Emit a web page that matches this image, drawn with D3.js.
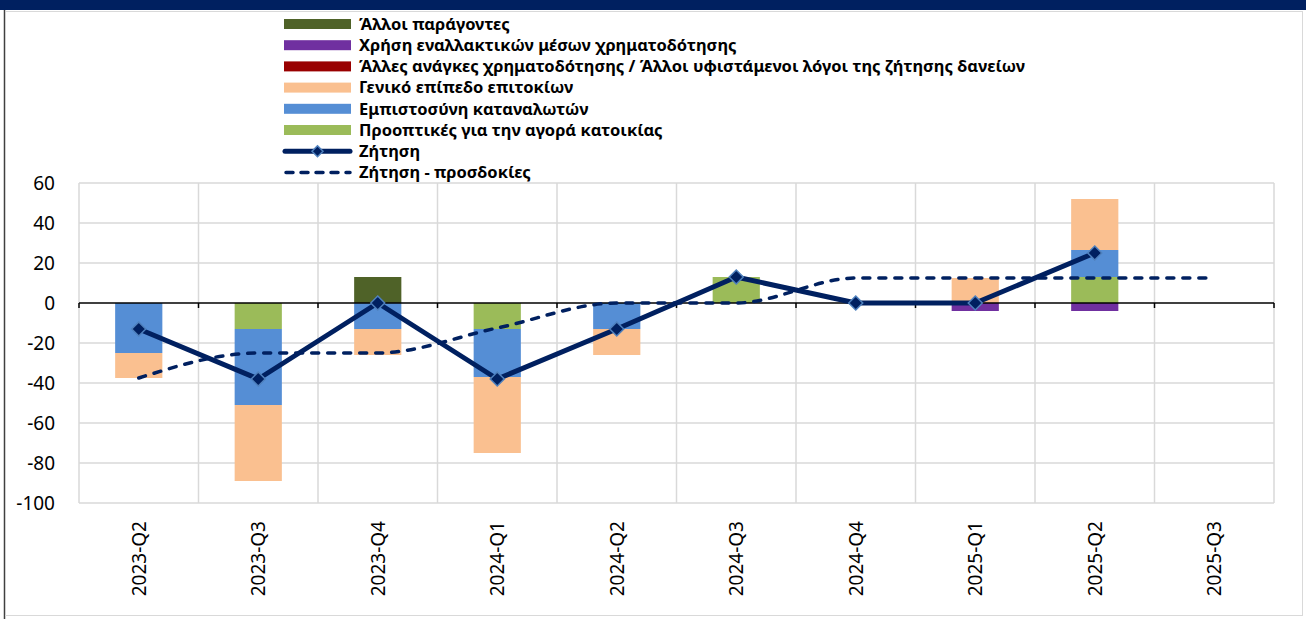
<!DOCTYPE html>
<html>
<head>
<meta charset="utf-8">
<script src="https://cdn.jsdelivr.net/npm/d3@7"></script>
<style>
  body { margin: 0; background: #fff; }
  svg { display: block; }
  text { font-family: "Noto Sans", "DejaVu Sans", sans-serif; fill: #000; }
</style>
</head>
<body>
<div id="chart"></div>
<script>
// ------------------------------
// Data
// ------------------------------

const categories = ["2023-Q2", "2023-Q3", "2023-Q4", "2024-Q1", "2024-Q2", "2024-Q3", "2024-Q4", "2025-Q1", "2025-Q2", "2025-Q3"];

// Stacked contributions (order = stacking order, from the axis outwards)
const housingProspects = [0, -13, 0, -13, 0, 13, 0, 0, 13, null];
const consumerConfidence = [-25, -38, -13, -24, -13, 0, 0, 0, 13.5, null];
const interestRates = [-12.5, -38, -13, -38, -13, 0, 0, 12.5, 25.5, null];
const otherFinancingNeeds = [0, 0, 0, 0, 0, 0, 0, 0, 0, null];
const alternativeFinancing = [0, 0, 0, 0, 0, 0, 0, -4, -4, null];
const otherFactors = [0, 0, 13, 0, 0, 0, 0, 0, 0, null];

// Lines
const demand = [-13, -38, 0, -38, -13, 13, 0, 0, 25, null];
const demandExpectations = [-37.5, -25, -25, -12.5, 0, 0, 12.5, 12.5, 12.5, 12.5];

const yTicks = [-100, -80, -60, -40, -20, 0, 20, 40, 60];

const barSeries = [
  { key: "housing", label: "Προοπτικές για την αγορά κατοικίας", values: housingProspects, color: "#9BBB59" },
  { key: "confidence", label: "Εμπιστοσύνη καταναλωτών", values: consumerConfidence, color: "#558ED5" },
  { key: "rates", label: "Γενικό επίπεδο επιτοκίων", values: interestRates, color: "#FAC090" },
  { key: "needs", label: "Άλλες ανάγκες χρηματοδότησης / Άλλοι υφιστάμενοι λόγοι της ζήτησης δανείων", values: otherFinancingNeeds, color: "#990000" },
  { key: "alternative", label: "Χρήση εναλλακτικών μέσων χρηματοδότησης", values: alternativeFinancing, color: "#7030A0" },
  { key: "other", label: "Άλλοι παράγοντες", values: otherFactors, color: "#4F6228" },
];

const navy = "#002060";
const markerEdge = "#4F81BD";

// ------------------------------
// Layout
// ------------------------------

const width = 1306;
const height = 619;
const plot = { left: 79, right: 1274, top: 183, bottom: 503 };

const svg = d3.select("#chart").append("svg").attr("width", width).attr("height", height);

// Frame around the chart
svg.append("rect").attr("x", 0).attr("y", 0).attr("width", width).attr("height", 10).attr("fill", navy);
svg.append("line").attr("x1", 6).attr("x2", width - 3).attr("y1", 11.5).attr("y2", 11.5).attr("stroke", "#d9d9d9");
svg.append("line").attr("x1", 4.5).attr("x2", 4.5).attr("y1", 10).attr("y2", height).attr("stroke", "#404040").attr("stroke-width", 1.5);
svg.append("line").attr("x1", 5).attr("x2", width - 3).attr("y1", 615.5).attr("y2", 615.5).attr("stroke", "#d9d9d9");
svg.append("line").attr("x1", width - 3.5).attr("x2", width - 3.5).attr("y1", 11).attr("y2", 616).attr("stroke", "#d9d9d9");

// Scales
const x = d3.scaleBand().domain(categories).range([plot.left, plot.right]).padding(0);
const y = d3.scaleLinear().domain([-100, 60]).range([plot.bottom, plot.top]);
const barWidth = x.bandwidth() * 0.395;
const xc = (c) => x(c) + x.bandwidth() / 2;

// Gridlines
const grid = svg.append("g").attr("stroke", "#d9d9d9").attr("stroke-width", 1.5);
grid.selectAll("line.h")
  .data(yTicks.filter((d) => d !== 0))
  .join("line")
  .attr("x1", plot.left).attr("x2", plot.right)
  .attr("y1", (d) => y(d)).attr("y2", (d) => y(d));
grid.selectAll("line.v")
  .data(categories.map((c) => x(c)).concat([plot.right]))
  .join("line")
  .attr("x1", (d) => d).attr("x2", (d) => d)
  .attr("y1", plot.top).attr("y2", plot.bottom);

// Stacked bars (diverging)
const rows = categories.map((c, i) => {
  const row = { category: c };
  barSeries.forEach((s) => (row[s.key] = s.values[i] || 0));
  return row;
});
const stacked = d3.stack().keys(barSeries.map((s) => s.key)).offset(d3.stackOffsetDiverging)(rows);

svg.append("g")
  .selectAll("g")
  .data(stacked)
  .join("g")
  .attr("fill", (d, i) => barSeries[i].color)
  .selectAll("rect")
  .data((d) => d.filter((p) => p[1] - p[0] !== 0))
  .join("rect")
  .attr("x", (d) => xc(d.data.category) - barWidth / 2)
  .attr("y", (d) => y(Math.max(d[0], d[1])))
  .attr("width", barWidth)
  .attr("height", (d) => Math.abs(y(d[0]) - y(d[1])));

// Zero axis with small tick marks at band edges
const axis = svg.append("g").attr("transform", `translate(0,${y(0)})`);
axis.append("line").attr("x1", plot.left).attr("x2", plot.right).attr("stroke", "#000").attr("stroke-width", 1.5);
axis.selectAll("line.tick")
  .data(categories.map((c) => x(c)).concat([plot.right]))
  .join("line")
  .attr("x1", (d) => d).attr("x2", (d) => d)
  .attr("y1", 0).attr("y2", 5)
  .attr("stroke", "#000").attr("stroke-width", 1.5);

// Y axis labels
svg.append("g")
  .selectAll("text")
  .data(yTicks)
  .join("text")
  .attr("x", 55)
  .attr("y", (d) => y(d))
  .attr("dy", "0.35em")
  .attr("text-anchor", "end")
  .style("font-size", "19px")
  .text((d) => d);

// X axis labels (rotated)
svg.append("g")
  .selectAll("text")
  .data(categories)
  .join("text")
  .attr("transform", (d) => `translate(${xc(d) + 7},${plot.bottom + 18}) rotate(-90)`)
  .attr("text-anchor", "end")
  .style("font-size", "19px")
  .text((d) => d);

// Expectations line (smoothed, dashed)
const expLine = d3.line()
  .defined((d) => d != null)
  .x((d, i) => xc(categories[i]))
  .y((d) => y(d))
  .curve(d3.curveMonotoneX);
svg.append("path")
  .datum(demandExpectations)
  .attr("d", expLine)
  .attr("fill", "none")
  .attr("stroke", navy)
  .attr("stroke-width", 3.5)
  .attr("stroke-dasharray", "7,9")
  .attr("stroke-linecap", "round");

// Demand line with diamond markers
const demandLine = d3.line()
  .defined((d) => d != null)
  .x((d, i) => xc(categories[i]))
  .y((d) => y(d));
svg.append("path")
  .datum(demand)
  .attr("d", demandLine)
  .attr("fill", "none")
  .attr("stroke", navy)
  .attr("stroke-width", 5)
  .attr("stroke-linejoin", "round");

const diamond = (r) => `M0,${-r}L${r},0L0,${r}L${-r},0Z`;
svg.append("g")
  .selectAll("path")
  .data(demand.map((v, i) => ({ v, c: categories[i] })).filter((d) => d.v != null))
  .join("path")
  .attr("transform", (d) => `translate(${xc(d.c)},${y(d.v)})`)
  .attr("d", diamond(7))
  .attr("fill", navy)
  .attr("stroke", markerEdge)
  .attr("stroke-width", 1.5);

// ------------------------------
// Legend
// ------------------------------

const legendItems = barSeries.slice().reverse().map((s) => ({ type: "bar", label: s.label, color: s.color }))
  .concat([
    { type: "line", label: "Ζήτηση" },
    { type: "dash", label: "Ζήτηση - προσδοκίες" },
  ]);

const legend = svg.append("g").attr("transform", "translate(284,24)");
const item = legend.selectAll("g")
  .data(legendItems)
  .join("g")
  .attr("transform", (d, i) => `translate(0,${i * 21.2})`);

item.filter((d) => d.type === "bar")
  .append("rect")
  .attr("x", 0).attr("y", -5)
  .attr("width", 67).attr("height", 10)
  .attr("fill", (d) => d.color);

item.filter((d) => d.type === "line")
  .call((g) => {
    g.append("line").attr("x1", 1).attr("x2", 66).attr("stroke", navy).attr("stroke-width", 5).attr("stroke-linecap", "round");
    g.append("path").attr("transform", "translate(33.5,0)").attr("d", diamond(5.5))
      .attr("fill", navy).attr("stroke", markerEdge).attr("stroke-width", 1.5);
  });

item.filter((d) => d.type === "dash")
  .append("line")
  .attr("x1", 2).attr("x2", 66)
  .attr("stroke", navy).attr("stroke-width", 3.5)
  .attr("stroke-dasharray", "7,8").attr("stroke-linecap", "round");

item.append("text")
  .attr("x", 75)
  .attr("dy", "0.35em")
  .style("font-size", "16.5px")
  .style("font-weight", "bold")
  .text((d) => d.label);
</script>
</body>
</html>
